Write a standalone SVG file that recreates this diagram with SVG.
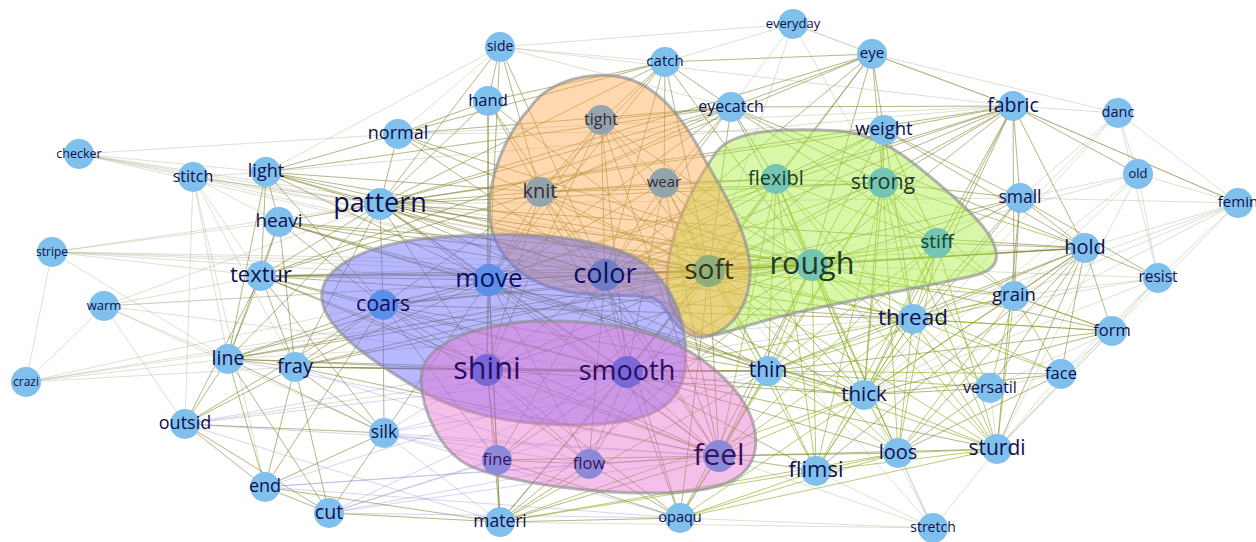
<svg xmlns="http://www.w3.org/2000/svg" width="1256" height="542" viewBox="0 0 1256 542">
<style>
.e1{fill:none;stroke:#7a7a22;stroke-opacity:.55;stroke-width:1}
.e2{fill:none;stroke:#b0b090;stroke-opacity:.5;stroke-width:.8}
.e3{fill:none;stroke:#86ac18;stroke-opacity:.6;stroke-width:1}
.e4{fill:none;stroke:#8a8ad0;stroke-opacity:.4;stroke-width:.9}
.hull{stroke:#8e8e8e;stroke-opacity:.65;stroke-width:3;fill-opacity:.45}
.n{fill:#7fc0ec}
.nb{fill:#5c8fe8}
.nc{fill:#6e7ec4}
.np{fill:#7868d8}
.nk{fill:#8c8ad8}
.no{fill:#93a5ab}
.ng{fill:#74c6b2}
.ns{fill:#8fae7c}
text{font-family:"Open Sans","Noto Sans",sans-serif;text-anchor:middle;fill:#0f0f4d}
.to{fill:#3a2a35}
.tg{fill:#1c3c28}
.ts{fill:#34361a}
.tb{fill:#0c0c66}
.tp{fill:#2a0a66}
.tk{fill:#3a105e}
</style>
<rect width="1256" height="542" fill="#ffffff"/>
<g id="connectors">
<path class="e2" d="M79 154L398 134M79 154L266 172M79 154L380 204M79 154L193 177M79 154L605 275M79 154L812 265M79 154L709 271M193 177L380 204M193 177L266 172M193 177L279 222M193 177L261 276M193 177L228 359M193 177L185 424M193 177L295 367M193 177L709 271M193 177L605 275M193 177L812 265M193 177L265 487M52 252L279 222M52 252L380 204M52 252L709 271M52 252L812 265M52 252L26 382M52 252L261 276M52 252L228 359M52 252L489 280M104 306L261 276M104 306L627 372M104 306L380 204M104 306L185 424M104 306L26 382M104 306L812 265M104 306L709 271M104 306L384 433M104 306L228 359M26 382L228 359M26 382L295 367M26 382L709 271M26 382L812 265M793 24L872 54M793 24L1013 106M793 24L665 62M793 24L731 107M793 24L883 183M793 24L500 47M793 24L709 271M500 47L665 62M500 47L731 107M500 47L1013 106M500 47L398 134M500 47L266 172M1118 113L1138 174M1118 113L1238 203M1118 113L1020 198M1118 113L1158 278M1118 113L1013 106M1118 113L913 319M1118 113L864 395M1138 174L1238 203M1138 174L1020 198M1138 174L1158 278M1138 174L864 395M1138 174L1014 296M1138 174L997 449M1138 174L812 265M1238 203L1085 248M1238 203L1158 278M1238 203L1020 198M1238 203L864 395M1238 203L1014 296M1238 203L913 319M1238 203L997 449M1238 203L1013 106M1158 278L1014 296M1158 278L812 265M1158 278L913 319M1158 278L1112 331M1158 278L997 449M1158 278L864 395M1158 278L1061 374M1112 331L1061 374M1112 331L997 449M1112 331L990 388M1061 374L997 449M1061 374L990 388M990 388L997 449M933 528L997 449M933 528L898 453M933 528L864 395M933 528L816 471M933 528L719 456M933 528L680 518M933 528L500 522M933 528L709 271M933 528L812 265M872 54L1118 113M398 134L1013 106M266 172L1013 106M398 134L884 130M185 424L913 319M228 359L913 319M261 276L1085 248M380 204L1020 198M26 382L489 280M52 252L605 275"/>
<path class="e1" d="M398 134L380 204M398 134L488 101M398 134L665 62M398 134L731 107M398 134L812 265M398 134L709 271M398 134L266 172M398 134L605 275M488 101L380 204M488 101L665 62M488 101L489 280M488 101L487 370M488 101L540 192M488 101L709 271M488 101L605 275M488 101L500 47M500 47L540 192M500 47L489 280M500 47L605 275M500 47L380 204M665 62L731 107M665 62L872 54M665 62L540 192M665 62L601 120M665 62L664 183M665 62L709 271M665 62L605 275M665 62L380 204M665 62L812 265M665 62L489 280M872 54L731 107M872 54L883 183M872 54L776 179M872 54L1013 106M872 54L884 130M872 54L812 265M872 54L709 271M872 54L605 275M872 54L540 192M872 54L380 204M731 107L601 120M731 107L540 192M731 107L664 183M731 107L709 271M731 107L812 265M731 107L605 275M731 107L380 204M731 107L776 179M731 107L883 183M731 107L1013 106M731 107L1085 248M731 107L489 280M731 107L937 243M731 107L261 276M731 107L266 172M601 120L540 192M601 120L664 183M601 120L605 275M601 120L709 271M601 120L489 280M601 120L719 456M601 120L812 265M601 120L627 372M601 120L487 370M540 192L664 183M540 192L709 271M540 192L605 275M540 192L489 280M540 192L380 204M540 192L812 265M540 192L627 372M540 192L487 370M540 192L719 456M540 192L383 305M540 192L776 179M540 192L883 183M540 192L266 172M540 192L261 276M664 183L709 271M664 183L605 275M664 183L812 265M664 183L489 280M664 183L627 372M664 183L719 456M664 183L768 371M664 183L864 395M664 183L776 179"/>
<path class="e1" d="M1013 106L884 130M1013 106L883 183M1013 106L937 243M1013 106L1085 248M1013 106L1020 198M1013 106L1138 174M1013 106L1238 203M1013 106L709 271M1013 106L812 265M1013 106L776 179M1013 106L380 204M1013 106L489 280M1013 106L605 275M1013 106L864 395M1013 106L913 319M1013 106L1014 296M884 130L883 183M884 130L776 179M884 130L812 265M884 130L709 271M884 130L937 243M884 130L1085 248M884 130L1020 198M884 130L913 319M884 130L864 395M884 130L605 275M884 130L380 204M1020 198L1085 248M1020 198L883 183M1020 198L937 243M1020 198L812 265M1020 198L709 271M1020 198L913 319M1020 198L864 395M1020 198L1014 296M1020 198L997 449M1020 198L1158 278M1085 248L812 265M1085 248L709 271M1085 248L913 319M1085 248L864 395M1085 248L997 449M1085 248L898 453M1085 248L1014 296M1085 248L1112 331M1085 248L1061 374M1085 248L1158 278M1085 248L768 371M1085 248L605 275M1085 248L380 204M1085 248L937 243M1085 248L816 471M1085 248L990 388M1112 331L913 319M1112 331L864 395M1112 331L768 371M1112 331L1014 296M1061 374L864 395M1061 374L898 453M990 388L864 395M990 388L898 453M812 265L1112 331"/>
<path class="e1" d="M380 204L605 275M380 204L709 271M380 204L812 265M380 204L489 280M380 204L383 305M380 204L261 276M380 204L279 222M380 204L487 370M380 204L627 372M380 204L719 456M380 204L228 359M380 204L295 367M380 204L913 319M380 204L883 183M380 204L768 371M380 204L266 172M266 172L279 222M266 172L709 271M266 172L812 265M266 172L605 275M266 172L489 280M266 172L383 305M266 172L228 359M266 172L261 276M279 222L261 276M279 222L709 271M279 222L812 265M279 222L605 275M279 222L489 280M279 222L383 305M279 222L228 359M279 222L295 367M279 222L864 395M279 222L768 371M261 276L383 305M261 276L489 280M261 276L605 275M261 276L709 271M261 276L812 265M261 276L228 359M261 276L295 367M261 276L627 372M261 276L487 370M261 276L719 456M261 276L185 424M261 276L913 319M261 276L384 433M489 280L605 275M489 280L709 271M489 280L812 265M489 280L383 305M489 280L487 370M489 280L627 372M489 280L719 456M489 280L497 460M489 280L589 464M489 280L768 371M489 280L864 395M489 280L384 433M489 280L500 522M489 280L295 367M489 280L228 359M605 275L709 271M605 275L812 265M605 275L383 305M605 275L487 370M605 275L627 372M605 275L719 456M605 275L768 371M605 275L864 395M605 275L497 460M605 275L589 464M605 275L913 319M605 275L680 518M709 271L812 265M709 271L627 372M709 271L487 370M709 271L719 456M709 271L383 305M709 271L497 460M709 271L589 464M709 271L500 522M709 271L680 518M709 271L228 359M709 271L295 367M812 265L627 372M812 265L487 370M812 265L719 456M812 265L383 305M812 265L228 359M812 265L295 367M812 265L500 522M812 265L680 518"/>
<path class="e1" d="M383 305L487 370M383 305L627 372M383 305L719 456M383 305L497 460M383 305L589 464M383 305L228 359M383 305L295 367M383 305L384 433M383 305L185 424M383 305L768 371M383 305L913 319M383 305L265 487M228 359L295 367M228 359L185 424M228 359L265 487M228 359L329 513M228 359L384 433M228 359L627 372M228 359L487 370M295 367L185 424M295 367L265 487M295 367L329 513M295 367L384 433M295 367L487 370M295 367L627 372M295 367L719 456M295 367L768 371M487 370L627 372M487 370L719 456M487 370L497 460M487 370L589 464M487 370L768 371M487 370L864 395M627 372L719 456M627 372L497 460M627 372L589 464M627 372L768 371M627 372L864 395M627 372L500 522M627 372L680 518M627 372L997 449M627 372L898 453M627 372L816 471M487 370L500 522M487 370L680 518M497 460L589 464M497 460L719 456M497 460L500 522M497 460L680 518M589 464L719 456M589 464L500 522M589 464L680 518M719 456L680 518M719 456L500 522M719 456L816 471M719 456L898 453M719 456L997 449M185 424L384 433M185 424L265 487M185 424L329 513M265 487L329 513M265 487L500 522M265 487L384 433M329 513L500 522M329 513L384 433M500 522L680 518"/>
<path class="e4" d="M185 424L627 372M185 424L487 370M185 424L719 456M185 424L500 522M265 487L680 518M265 487L719 456M329 513L680 518M329 513L719 456M329 513L627 372M384 433L719 456M384 433L497 460M384 433L589 464M384 433L500 522M384 433L627 372M384 433L680 518M384 433L487 370M329 513L589 464M329 513L497 460M265 487L627 372M265 487L589 464M295 367L589 464M228 359L719 456M384 433L768 371M329 513L768 371"/>
<path class="e3" d="M776 179L883 183M776 179L937 243M776 179L812 265M776 179L709 271M776 179L864 395M776 179L913 319M776 179L768 371M776 179L997 449M776 179L898 453M776 179L816 471M776 179L719 456M776 179L627 372M776 179L605 275M776 179L489 280M883 183L937 243M883 183L812 265M883 183L709 271M883 183L1085 248M883 183L913 319M883 183L864 395M883 183L997 449M883 183L898 453M883 183L816 471M883 183L768 371M883 183L605 275M883 183L1014 296M883 183L990 388M883 183L719 456M937 243L812 265M937 243L709 271M937 243L913 319M937 243L864 395M937 243L997 449M937 243L898 453M937 243L768 371M937 243L1014 296M937 243L816 471M937 243L719 456M812 265L768 371M812 265L864 395M812 265L913 319M812 265L898 453M812 265L997 449M812 265L816 471M812 265L1014 296M812 265L990 388M812 265L1061 374M709 271L768 371M709 271L864 395M709 271L913 319M709 271L898 453M709 271L997 449M709 271L816 471M709 271L1014 296"/>
<path class="e3" d="M913 319L864 395M913 319L997 449M913 319L898 453M913 319L768 371M913 319L816 471M913 319L719 456M913 319L627 372M913 319L1112 331M913 319L1061 374M913 319L990 388M913 319L1014 296M768 371L864 395M768 371L719 456M768 371L997 449M768 371L898 453M768 371L816 471M768 371L680 518M768 371L500 522M768 371L990 388M768 371L1061 374M864 395L997 449M864 395L898 453M864 395L816 471M864 395L719 456M864 395L680 518M864 395L500 522M1014 296L913 319M1014 296L864 395M1014 296L997 449M1014 296L1112 331M1014 296L1061 374M1014 296L898 453M1014 296L768 371M1014 296L990 388M898 453L997 449M898 453L816 471M898 453L680 518M997 449L816 471M997 449L680 518M816 471L680 518M816 471L500 522M898 453L500 522"/>
</g>
<g id="clusters">
<path id="hull-green" class="hull" fill="#a8ee40" d="M713,157 C725,135 760,126 840,131 C880,135 905,155 940,185 C975,215 1000,240 996,260 C992,275 970,276 940,283 C880,295 800,310 760,322 C730,330 712,340 695,333 C672,322 664,295 668,265 C672,230 690,190 713,157 Z"/>
<path id="hull-orange" class="hull" fill="#ffa850" d="M530,108 C545,85 580,72 615,76 C650,80 680,110 705,160 C725,195 745,225 750,265 C752,300 735,330 705,337 C685,340 672,320 660,302 C640,290 600,300 560,290 C520,280 495,255 490,220 C486,180 505,135 530,108 Z"/>
<path id="hull-blue" class="hull" fill="#6262ff" d="M322,300 C318,270 360,245 430,238 C500,232 580,232 630,255 C670,275 690,320 685,370 C680,400 660,420 600,424 C540,428 470,420 420,390 C370,360 326,330 322,300 Z"/>
<path id="hull-pink" class="hull" fill="#e670cc" d="M421,380 C420,350 460,328 520,322 C580,318 650,325 695,355 C740,385 760,420 755,450 C750,480 720,492 660,493 C600,494 520,485 475,468 C440,455 422,410 421,380 Z"/>
</g>
<g id="n-side"><circle class="n" cx="500" cy="47" r="15"/><text x="500" y="51" font-size="14">side</text></g>
<g id="n-catch"><circle class="n" cx="665" cy="62" r="15"/><text x="665" y="66" font-size="15">catch</text></g>
<g id="n-everyday"><circle class="n" cx="793" cy="24" r="15"/><text x="793" y="28" font-size="13">everyday</text></g>
<g id="n-eye"><circle class="n" cx="872" cy="54" r="15"/><text x="872" y="58" font-size="15">eye</text></g>
<g id="n-hand"><circle class="n" cx="488" cy="101" r="15"/><text x="488" y="106" font-size="16.5">hand</text></g>
<g id="n-eyecatch"><circle class="n" cx="731" cy="107" r="15"/><text x="731" y="111.5" font-size="16">eyecatch</text></g>
<g id="n-tight"><circle class="no" cx="601" cy="120" r="15"/><text class="to" x="601" y="124.5" font-size="16">tight</text></g>
<g id="n-fabric"><circle class="n" cx="1013" cy="106" r="15"/><text x="1013" y="111.5" font-size="19.5">fabric</text></g>
<g id="n-danc"><circle class="n" cx="1118" cy="113" r="15"/><text x="1118" y="117" font-size="14.5">danc</text></g>
<g id="n-normal"><circle class="n" cx="398" cy="134" r="15"/><text x="398" y="139" font-size="18">normal</text></g>
<g id="n-weight"><circle class="n" cx="884" cy="130" r="15"/><text x="884" y="135" font-size="18.5">weight</text></g>
<g id="n-checker"><circle class="n" cx="79" cy="154" r="15"/><text x="79" y="157.5" font-size="12.5">checker</text></g>
<g id="n-stitch"><circle class="n" cx="193" cy="177" r="15"/><text x="193" y="181.5" font-size="16">stitch</text></g>
<g id="n-light"><circle class="n" cx="266" cy="172" r="15"/><text x="266" y="177" font-size="18">light</text></g>
<g id="n-knit"><circle class="no" cx="540" cy="192" r="15"/><text class="to" x="540" y="197.5" font-size="20">knit</text></g>
<g id="n-wear"><circle class="no" cx="664" cy="183" r="15"/><text class="to" x="664" y="187" font-size="15">wear</text></g>
<g id="n-flexibl"><circle class="ng" cx="776" cy="179" r="15"/><text class="tg" x="776" y="184.5" font-size="20">flexibl</text></g>
<g id="n-strong"><circle class="ng" cx="883" cy="183" r="15"/><text class="tg" x="883" y="189" font-size="21.5">strong</text></g>
<g id="n-old"><circle class="n" cx="1138" cy="174" r="15"/><text x="1138" y="177.5" font-size="13">old</text></g>
<g id="n-small"><circle class="n" cx="1020" cy="198" r="15"/><text x="1020" y="203" font-size="17.5">small</text></g>
<g id="n-pattern"><circle class="n" cx="380" cy="204" r="16"/><text x="380" y="211.5" font-size="27">pattern</text></g>
<g id="n-heavi"><circle class="n" cx="279" cy="222" r="15"/><text x="279" y="227" font-size="19">heavi</text></g>
<g id="n-femin"><circle class="n" cx="1238" cy="203" r="15"/><text x="1238" y="207" font-size="15">femin</text></g>
<g id="n-stripe"><circle class="n" cx="52" cy="252" r="15"/><text x="52" y="255.5" font-size="12">stripe</text></g>
<g id="n-stiff"><circle class="ng" cx="937" cy="243" r="15"/><text class="tg" x="937" y="248" font-size="19">stiff</text></g>
<g id="n-hold"><circle class="n" cx="1085" cy="248" r="15"/><text x="1085" y="253.5" font-size="20">hold</text></g>
<g id="n-resist"><circle class="n" cx="1158" cy="278" r="15"/><text x="1158" y="282" font-size="15.5">resist</text></g>
<g id="n-textur"><circle class="n" cx="261" cy="276" r="15"/><text x="261" y="282" font-size="22">textur</text></g>
<g id="n-move"><circle class="nb" cx="489" cy="280" r="16"/><text class="tb" x="489" y="287" font-size="26">move</text></g>
<g id="n-color"><circle class="nc" cx="605" cy="275" r="16"/><text class="tb" x="605" y="282.5" font-size="27">color</text></g>
<g id="n-soft"><circle class="ns" cx="709" cy="271" r="16"/><text class="ts" x="709" y="279" font-size="28">soft</text></g>
<g id="n-rough"><circle class="ng" cx="812" cy="265" r="16"/><text class="tg" x="812" y="273.5" font-size="30.5">rough</text></g>
<g id="n-coars"><circle class="nb" cx="383" cy="305" r="15"/><text class="tb" x="383" y="311" font-size="21.5">coars</text></g>
<g id="n-warm"><circle class="n" cx="104" cy="306" r="15"/><text x="104" y="309.5" font-size="13">warm</text></g>
<g id="n-grain"><circle class="n" cx="1014" cy="296" r="15"/><text x="1014" y="301" font-size="18.5">grain</text></g>
<g id="n-thread"><circle class="n" cx="913" cy="319" r="15"/><text x="913" y="325" font-size="22.5">thread</text></g>
<g id="n-form"><circle class="n" cx="1112" cy="331" r="15"/><text x="1112" y="335.5" font-size="16.5">form</text></g>
<g id="n-line"><circle class="n" cx="228" cy="359" r="15"/><text x="228" y="364.5" font-size="19.5">line</text></g>
<g id="n-fray"><circle class="n" cx="295" cy="367" r="15"/><text x="295" y="372.5" font-size="20">fray</text></g>
<g id="n-crazi"><circle class="n" cx="26" cy="382" r="15"/><text x="26" y="385.5" font-size="12">crazi</text></g>
<g id="n-shini"><circle class="np" cx="487" cy="370" r="16"/><text class="tp" x="487" y="378.5" font-size="30.5">shini</text></g>
<g id="n-smooth"><circle class="np" cx="627" cy="372" r="16"/><text class="tp" x="627" y="379.5" font-size="27">smooth</text></g>
<g id="n-thin"><circle class="n" cx="768" cy="371" r="15"/><text x="768" y="377" font-size="21">thin</text></g>
<g id="n-face"><circle class="n" cx="1061" cy="374" r="15"/><text x="1061" y="378.5" font-size="16.5">face</text></g>
<g id="n-versatil"><circle class="n" cx="990" cy="388" r="15"/><text x="990" y="392.5" font-size="16">versatil</text></g>
<g id="n-thick"><circle class="n" cx="864" cy="395" r="15"/><text x="864" y="400.5" font-size="20.5">thick</text></g>
<g id="n-outsid"><circle class="n" cx="185" cy="424" r="15"/><text x="185" y="429" font-size="18">outsid</text></g>
<g id="n-silk"><circle class="n" cx="384" cy="433" r="15"/><text x="384" y="438" font-size="17.5">silk</text></g>
<g id="n-fine"><circle class="nk" cx="497" cy="460" r="15"/><text class="tk" x="497" y="464.5" font-size="16.5">fine</text></g>
<g id="n-flow"><circle class="nk" cx="589" cy="464" r="15"/><text class="tk" x="589" y="468.5" font-size="16.5">flow</text></g>
<g id="n-feel"><circle class="nk" cx="719" cy="456" r="16"/><text class="tk" x="719" y="464.5" font-size="30">feel</text></g>
<g id="n-loos"><circle class="n" cx="898" cy="453" r="15"/><text x="898" y="458.5" font-size="20">loos</text></g>
<g id="n-sturdi"><circle class="n" cx="997" cy="449" r="15"/><text x="997" y="455" font-size="21">sturdi</text></g>
<g id="n-flimsi"><circle class="n" cx="816" cy="471" r="15"/><text x="816" y="477" font-size="22">flimsi</text></g>
<g id="n-end"><circle class="n" cx="265" cy="487" r="15"/><text x="265" y="492" font-size="18">end</text></g>
<g id="n-cut"><circle class="n" cx="329" cy="513" r="15"/><text x="329" y="518.5" font-size="19.5">cut</text></g>
<g id="n-materi"><circle class="n" cx="500" cy="522" r="15"/><text x="500" y="527" font-size="17.5">materi</text></g>
<g id="n-opaqu"><circle class="n" cx="680" cy="518" r="15"/><text x="680" y="522" font-size="14.5">opaqu</text></g>
<g id="n-stretch"><circle class="n" cx="933" cy="528" r="15"/><text x="933" y="532" font-size="14">stretch</text></g>
</svg>
